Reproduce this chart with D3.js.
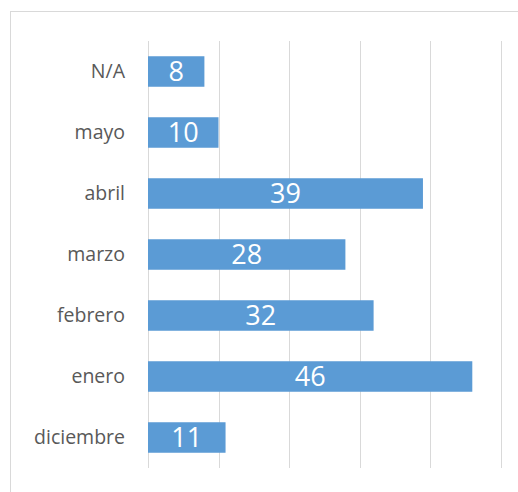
<!DOCTYPE html>
<html><head><meta charset="utf-8">
<script src="https://cdn.jsdelivr.net/npm/d3@7"></script>
<style>html,body{margin:0;padding:0;background:#fff;}svg{display:block;}</style>
</head><body>
<script>
const categories = ["N/A","mayo","abril","marzo","febrero","enero","diciembre"];
const values = [8,10,39,28,32,46,11];
const gridTicks = [0,10,20,30,40,50];

const W = 518, H = 492;
const svg = d3.select("body").append("svg").attr("width", W).attr("height", H);
svg.append("rect").attr("x",10.5).attr("y",11.5).attr("width",520).attr("height",500)
  .attr("fill","#fff").attr("stroke","#d9d9d9").attr("stroke-width",1);

const x = d3.scaleLinear().domain([0,50]).range([148,500.5]);
const y = d3.scaleBand().domain(categories).range([41,468]).paddingInner(0.5).paddingOuter(0.25);

svg.append("g").selectAll("line").data(gridTicks).join("line")
  .attr("x1",d=>Math.round(x(d))+0.5).attr("x2",d=>Math.round(x(d))+0.5)
  .attr("y1",41).attr("y2",468).attr("stroke","#d9d9d9").attr("stroke-width",1);

const data = categories.map((c,i)=>({c, v: values[i]}));
svg.append("g").selectAll("rect").data(data).join("rect")
  .attr("x", x(0)).attr("y", d=>y(d.c)).attr("width", d=>x(d.v)-x(0)).attr("height", y.bandwidth())
  .attr("fill","#5b9bd5");

svg.append("g").selectAll("text").data(data).join("text")
  .attr("x", d=>(x(0)+x(d.v))/2).attr("y", d=>y(d.c)+y.bandwidth()/2)
  .attr("dy","0.36em").attr("text-anchor","middle")
  .attr("font-family","'Open Sans', sans-serif").attr("font-size",27)
  .attr("fill","#fff").text(d=>d.v);

svg.append("g").selectAll("text").data(categories).join("text")
  .attr("x",125).attr("y", d=>y(d)+y.bandwidth()/2).attr("dy","0.35em")
  .attr("text-anchor","end").attr("font-family","'Open Sans', sans-serif")
  .attr("font-size",19.5).attr("fill","#595959").text(d=>d);
</script>
</body></html>
